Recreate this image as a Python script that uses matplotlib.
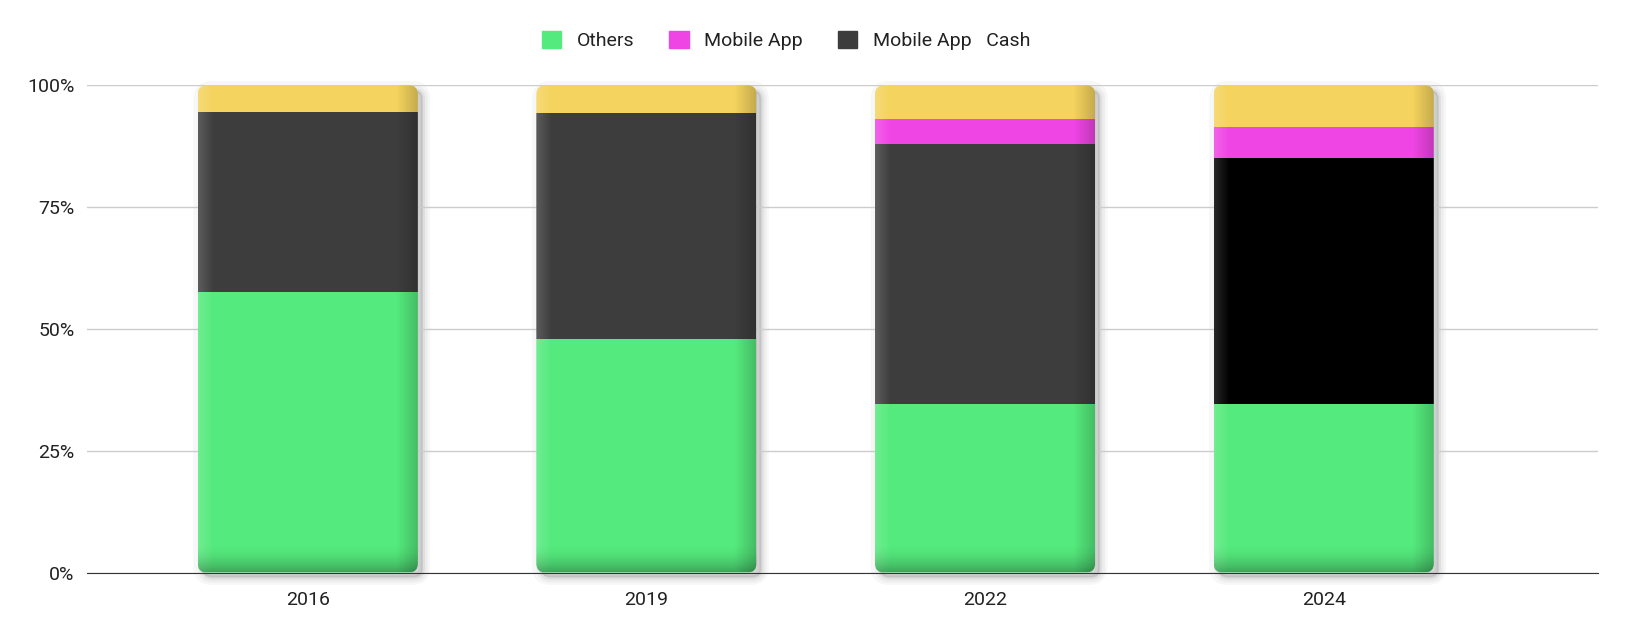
import numpy as np
import matplotlib
matplotlib.use("Agg")
from matplotlib import pyplot as plt
from matplotlib.patches import FancyBboxPatch, Patch
from matplotlib import transforms

plt.rcParams['font.family'] = ['Roboto', 'DejaVu Sans']

years = ['2016', '2019', '2022', '2024']
others = [57.5, 48.0, 34.5, 34.5]
app_cash = [37.0, 46.3, 53.5, 50.5]
mobile_app = [0.0, 0.0, 5.0, 6.5]
rest = [5.5, 5.7, 7.0, 8.5]

green = '#55ea7d'
pink = '#ef45e5'
dark = ['#3d3d3d', '#3d3d3d', '#3d3d3d', '#000000']
yellow = '#f4d35e'

fig = plt.figure(figsize=(16.32, 6.4), dpi=100)
ax = fig.add_axes([87 / 1632, 1 - 572.5 / 640, (1598 - 87) / 1632, 487.2 / 640])

x = np.arange(len(years))
w = 0.65
rx, ry = 0.0266, 1.85

b1 = ax.bar(x, others, w, color=green, zorder=3)
b2 = ax.bar(x, app_cash, w, bottom=others, color=dark, zorder=3)
bot3 = np.add(others, app_cash)
b3 = ax.bar(x, mobile_app, w, bottom=bot3, color=pink, zorder=3)
bot4 = bot3 + np.array(mobile_app)
b4 = ax.bar(x, rest, w, bottom=bot4, color=yellow, zorder=3)

# horizontal shading: light left edge, dark right edge
gx = np.linspace(0, 1, 300)
alpha_h = np.where(gx < 0.07, 0.16 * (1 - gx / 0.07), 0) + np.where(gx > 0.9, 0.2 * (gx - 0.9) / 0.1, 0)
col_h = np.where(gx < 0.5, 1.0, 0.0)
hshade = np.zeros((1, 300, 4))
hshade[0, :, 0:3] = col_h[:, None]
hshade[0, :, 3] = alpha_h

for xi, total in zip(x, bot4 + np.array(rest)):
    tot = total
    # soft shadow, offset right/down
    for off, a, lw in [(4, 0.03, 12), (5, 0.04, 7), (5, 0.06, 3)]:
        tr = transforms.offset_copy(ax.transData, fig, x=off, y=-off, units='dots')
        sh = FancyBboxPatch((xi - w / 2, 0), w, tot,
                            boxstyle=f"round,pad=0,rounding_size={rx}",
                            mutation_aspect=ry / rx, transform=tr,
                            facecolor='black', edgecolor='black', lw=lw,
                            alpha=a, zorder=1, clip_on=False)
        ax.add_patch(sh)
    clip = FancyBboxPatch((xi - w / 2, 0), w, tot,
                          boxstyle=f"round,pad=0,rounding_size={rx}",
                          mutation_aspect=ry / rx, transform=ax.transData,
                          facecolor='none', edgecolor='none')
    ax.add_patch(clip)
    for bars in (b1, b2, b3, b4):
        bars[xi].set_clip_path(clip)
    im = ax.imshow(hshade, extent=[xi - w / 2, xi + w / 2, 0, tot], aspect='auto',
                   interpolation='bilinear', zorder=4)
    im.set_clip_path(clip)
    # darker band at the bottom of each bar
    vy = np.linspace(1, 0, 400)
    vshade = np.zeros((400, 1, 4))
    vshade[:, 0, 3] = np.clip((6.0 - vy * tot) / 6.0, 0, 1) ** 2 * 0.28
    im2 = ax.imshow(vshade, extent=[xi - w / 2, xi + w / 2, 0, tot], aspect='auto',
                    interpolation='bilinear', zorder=4)
    im2.set_clip_path(clip)

ax.set_xlim(-0.652, 3.81)
ax.set_ylim(0, 100)
ax.set_xticks(x)
ax.set_xticklabels(years)
ax.set_yticks([0, 25, 50, 75, 100])
ax.set_yticklabels(['0%', '25%', '50%', '75%', '100%'])
ax.tick_params(axis='both', length=0, labelsize=14, labelcolor='#222222')
ax.tick_params(axis='x', pad=13)
ax.tick_params(axis='y', pad=9)
ax.yaxis.grid(True, color='#cccccc', lw=1, zorder=0)
for s in ('top', 'right', 'left'):
    ax.spines[s].set_visible(False)
ax.spines['bottom'].set_color('#333333')
ax.spines['bottom'].set_zorder(5)

handles = [Patch(facecolor=green, edgecolor=green),
           Patch(facecolor=pink, edgecolor=pink),
           Patch(facecolor='#3d3d3d', edgecolor='#3d3d3d')]
labels = ['Others', 'Mobile App', 'Mobile App   Cash']
fig.legend(handles, labels, loc='center', bbox_to_anchor=(0.4816, 0.937), ncol=3,
           frameon=False, fontsize=14, handlelength=1.0, handleheight=1.0,
           handletextpad=0.8, columnspacing=1.8, labelcolor='#222222')

fig.savefig('out.png', dpi=100, facecolor='white')
